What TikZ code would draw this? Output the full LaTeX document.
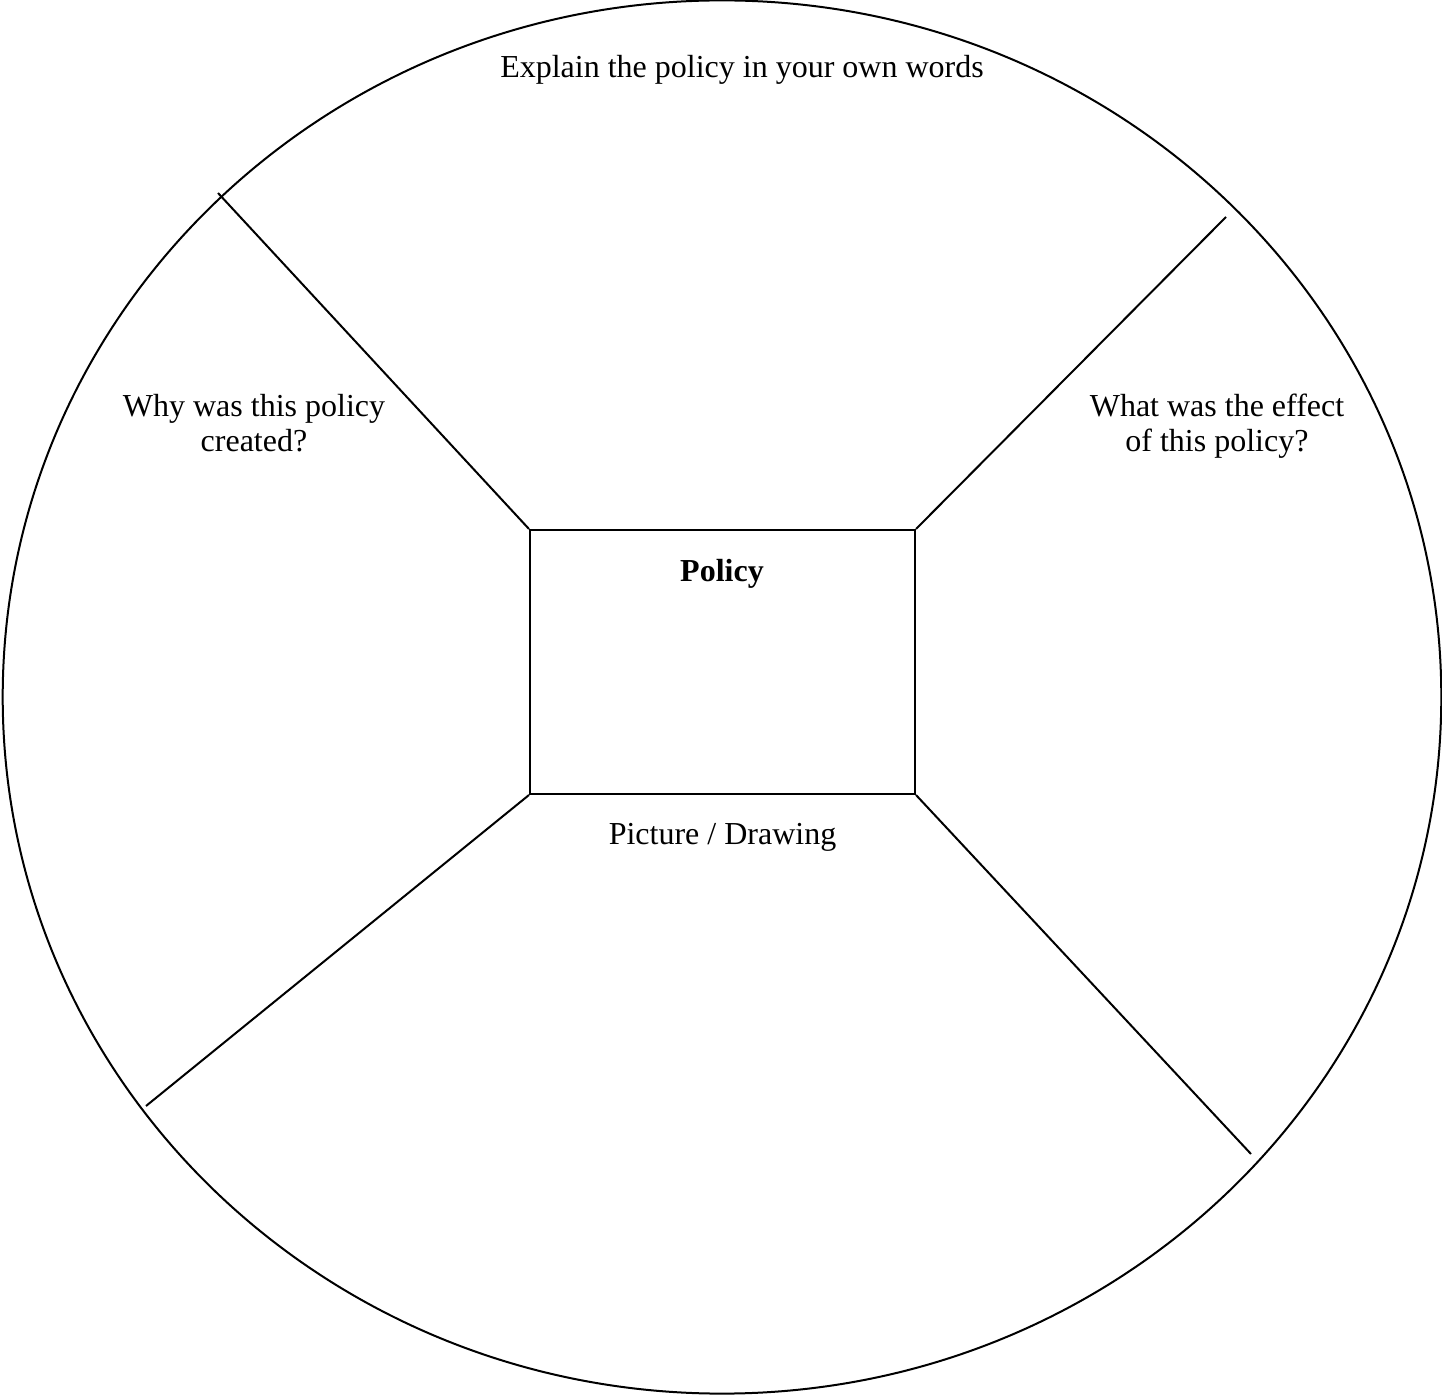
\documentclass[tikz,border=0pt]{standalone}
\usepackage{fontspec}
\setmainfont{Liberation Serif}
\usetikzlibrary{shapes.geometric}
\begin{document}
\begin{tikzpicture}[x=0.5pt,y=-0.5pt,
  every node/.style={font=\fontsize{16}{17.5}\selectfont},
  lbl/.style={anchor=base,align=center,inner sep=0pt},
  ln/.style={line width=1pt,black}]
\useasboundingbox (0,0) rectangle (1442,1395);
\node[ln,draw,ellipse,inner sep=0pt,minimum width=719.3pt,minimum height=696.6pt] (circ) at (722,697) {};
\node[ln,draw,rectangle,inner sep=0pt,minimum width=192.5pt,minimum height=132pt] (box) at (722.5,662) {};
\coordinate (tl) at (218,193);
\coordinate (tr) at (1226,217);
\coordinate (bl) at (146,1106);
\coordinate (br) at (1251,1154);
\draw[ln] (box.north west) -- (tl);
\draw[ln] (box.north east) -- (tr);
\draw[ln] (box.south west) -- (bl);
\draw[ln] (box.south east) -- (br);
\node[lbl] (explain) at (742,77.3) {Explain the policy in your own words};
\node[lbl] (why) at (254,451.7) {Why was this policy\\created?};
\node[lbl] (effect) at (1217,451.7) {What was the effect\\of this policy?};
\node[lbl,font=\fontsize{16}{17.5}\selectfont\bfseries] (policy) at (722,581.7) {Policy};
\node[lbl] (picture) at (722.5,845) {Picture / Drawing};
\end{tikzpicture}
\end{document}
